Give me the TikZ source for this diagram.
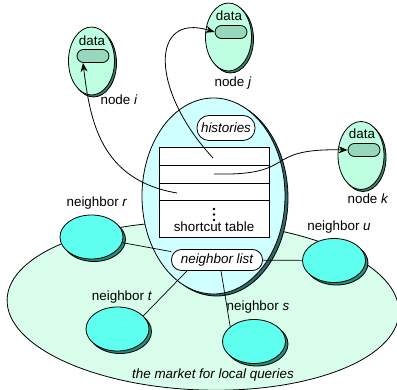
\documentclass[tikz,border=0pt]{standalone}
\usepackage{fontspec}
\setmainfont{Liberation Sans}
\usetikzlibrary{shapes.geometric,shadows,arrows.meta,calc}
\definecolor{marketfill}{RGB}{216,253,234}
\definecolor{cenfill}{RGB}{208,255,255}
\definecolor{censhadow}{RGB}{50,105,105}
\definecolor{datafill}{RGB}{190,255,225}
\definecolor{datashadow}{RGB}{60,130,105}
\definecolor{pillfill}{RGB}{150,215,190}
\definecolor{nbfill}{RGB}{95,255,240}
\definecolor{nbshadow}{RGB}{40,140,125}
\begin{document}
\begin{tikzpicture}[x=1pt,y=-1pt,line width=0.8pt,
  font=\fontsize{13.4}{16}\selectfont,
  market/.style={ellipse,draw,fill=marketfill,minimum width=392pt,minimum height=168pt,inner sep=0pt,rotate=-2},
  hub/.style={ellipse,draw,fill=cenfill,minimum width=143pt,minimum height=196pt,inner sep=0pt,
    copy shadow={shadow xshift=3pt,shadow yshift=-2pt,fill=censhadow,draw=black}},
  databall/.style={ellipse,draw,fill=datafill,minimum width=46pt,minimum height=68pt,inner sep=0pt,
    copy shadow={shadow xshift=2pt,shadow yshift=-2pt,fill=datashadow,draw=black}},
  pill/.style={draw,fill=pillfill,rounded corners=6.5pt,minimum width=32pt,minimum height=13pt,inner sep=0pt},
  nb/.style={ellipse,draw,fill=nbfill,minimum width=63pt,minimum height=44pt,inner sep=0pt,
    copy shadow={shadow xshift=2.5pt,shadow yshift=-2.5pt,fill=nbshadow,draw=black}},
  tag/.style={draw,fill=white,inner sep=0pt,font=\fontsize{13.4}{16}\selectfont\itshape},
  lbl/.style={inner sep=0pt},
  conn/.style={line width=0.7pt},
  arr/.style={line width=0.8pt,-{Stealth[length=9pt,width=7pt]}}]
\useasboundingbox (0,0) rectangle (397,390);
\begin{scope}
\clip (0,0) rectangle (397,390);
\node[market] (market) at (203,306) {};
\end{scope}
\node[lbl] (lm) at (213,375) {\itshape the market for local queries};
% hub
\node[hub] (hub) at (213.5,196) {};
\node[tag,minimum width=58pt,minimum height=25pt,rounded corners=12pt] (hist) at (226,128) {histories};
\node[draw,fill=white,minimum width=110pt,minimum height=90pt,inner sep=0pt] (tbl) at (214,192) {};
\draw (tbl.west |- 0,165) -- (tbl.east |- 0,165);
\draw (tbl.west |- 0,183) -- (tbl.east |- 0,183);
\draw (tbl.west |- 0,200) -- (tbl.east |- 0,200);
\fill (214,209) circle (1.3pt) (214,214.5) circle (1.3pt) (214,220) circle (1.3pt);
\node[lbl] (st) at (214,227) {shortcut table};
\node[tag,minimum width=91pt,minimum height=21pt,rounded corners=10pt] (nl) at (217,260) {neighbor list};
\coordinate (r1) at (213,158);
\coordinate (r2) at (214,174);
\coordinate (r3) at (177,193);
% data nodes
\node[databall] (ni) at (91.5,61) {};
\node[lbl] (di) at (92,41) {data};
\node[pill] (pi) at (93,56) {};
\node[lbl] (li) at (119,100) {node \textit{i}};
\node[databall] (nj) at (228.5,37) {};
\node[lbl] (dj) at (229,16) {data};
\node[pill] (pj) at (231,32) {};
\node[lbl] (lj) at (233,83) {node \textit{j}};
\node[databall] (nk) at (361,155.5) {};
\node[lbl] (dk) at (362,134) {data};
\node[pill] (pk) at (364,150) {};
\node[lbl] (lk) at (368,199) {node \textit{k}};
% neighbors
\node[nb] (nr) at (91.5,237) {};
\node[lbl] (lr) at (97,203) {neighbor \textit{r}};
\node[nb] (nt) at (117.5,329) {};
\node[lbl] (lt) at (122,297) {neighbor \textit{t}};
\node[nb] (nu) at (334,260.5) {};
\node[lbl] (lu) at (339,227) {neighbor \textit{u}};
\node[nb] (ns) at (254,341.5) {};
\node[lbl] (ls) at (258,307) {neighbor \textit{s}};
% connectors
\draw[conn] (nr) -- (nl);
\draw[conn] (nt.27) -- ([xshift=-30pt]nl.south);
\draw[conn] (ns.148) -- ([xshift=4pt]nl.south);
\draw[conn] (nl) -- (nu);
% arrows
\draw[arr] (r3) .. controls (100,180) and (90,120) .. ([xshift=-10pt]pi.south);
\draw[arr] (r1) .. controls (150,90) and (150,12) .. (pj.west);
\draw[arr] (r2) .. controls (300,176) and (260,148) .. (pk.west);
\end{tikzpicture}
\end{document}
